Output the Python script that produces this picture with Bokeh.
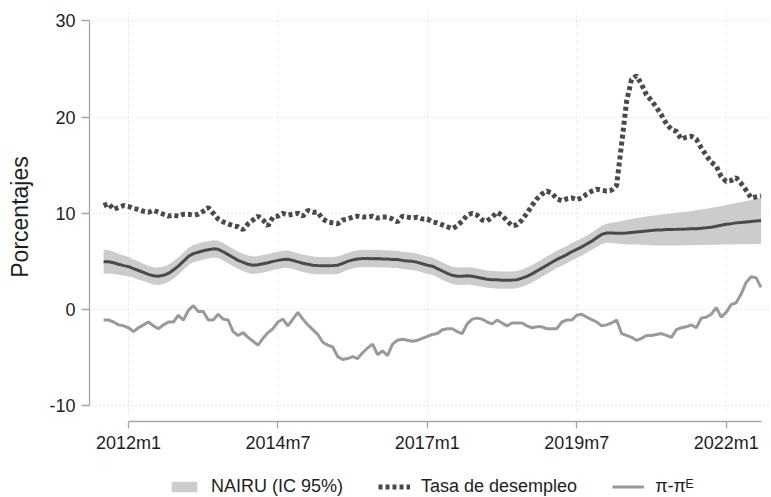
import numpy as np
from bokeh.plotting import figure
from bokeh.layouts import column
from bokeh.models import Range1d, LinearAxis, FixedTicker, Legend, LegendItem, ColumnDataSource
from bokeh.embed import file_html
from bokeh.resources import INLINE

# Monthly series, 2011m8 .. 2022m8 (Stata monthly index 619 .. 751)
START = 619

unemployment = [
    10.8, 11.0, 10.4, 10.6, 10.8,
    10.7, 10.5, 10.4, 10.2, 10.1, 10.3, 10.1, 9.9, 9.7, 9.8, 9.7, 9.9,
    9.9, 9.8, 9.9, 10.2, 10.6, 10.0, 9.4, 9.1, 8.9, 8.7, 8.6, 8.3,
    8.9, 9.3, 9.7, 9.3, 8.7, 9.6, 9.7, 10.0, 9.8, 9.9, 10.0, 9.7,
    10.3, 10.1, 10.1, 9.4, 9.1, 9.0, 8.9, 9.3, 9.4, 9.6, 9.7, 9.6,
    9.6, 9.7, 9.5, 9.6, 9.6, 9.4, 9.1, 9.7, 9.6, 9.5, 9.6, 9.4,
    9.4, 9.1, 9.0, 8.8, 8.6, 8.4, 8.7, 9.2, 9.8, 10.0, 9.8, 9.3,
    9.2, 9.6, 10.1, 9.8, 9.2, 8.7, 8.8, 9.3, 10.0, 10.8, 11.5, 12.0,
    12.3, 12.1, 11.5, 11.3, 11.5, 11.6, 11.4, 11.6, 12.0, 12.3, 12.5, 12.4,
    12.3, 12.4, 12.9, 17.2, 21.6, 23.9, 24.3, 23.4, 22.3, 21.7, 21.0, 20.2,
    19.3, 18.7, 18.5, 17.7, 17.9, 18.0, 17.7, 16.8, 16.0, 15.3, 14.9, 13.8,
    13.3, 13.4, 13.7, 13.1, 12.4, 11.6, 11.7, 11.8,
]

inflation_gap = [
    -1.1, -1.1, -1.3, -1.6, -1.7,
    -1.9, -2.3, -1.9, -1.6, -1.3, -1.7, -2.0, -1.6, -1.3, -1.3, -0.6, -1.1,
    -0.1, 0.4, -0.2, -0.2, -1.1, -1.1, -0.5, -1.0, -1.1, -2.3, -2.7, -2.4,
    -2.9, -3.3, -3.7, -3.0, -2.4, -2.0, -1.3, -1.0, -1.7, -1.0, -0.3, -1.0,
    -1.6, -2.1, -2.6, -3.4, -3.7, -3.9, -4.9, -5.2, -5.1, -4.9, -5.1, -4.5,
    -4.0, -3.6, -4.7, -4.3, -4.8, -3.6, -3.2, -3.1, -3.2, -3.3, -3.2, -3.0,
    -2.8, -2.6, -2.5, -2.1, -2.0, -2.0, -2.3, -2.5, -1.5, -1.0, -0.9, -1.0,
    -1.3, -1.5, -1.1, -1.4, -1.7, -1.4, -1.4, -1.4, -1.7, -1.9, -1.8, -1.8,
    -2.0, -2.0, -2.0, -1.3, -1.1, -1.1, -0.6, -0.5, -0.8, -1.05, -1.3, -1.7,
    -1.6, -1.4, -1.1, -2.5, -2.7, -2.9, -3.2, -3.0, -2.7, -2.7, -2.6, -2.5,
    -2.7, -2.9, -2.1, -1.9, -1.8, -1.6, -1.9, -0.9, -0.8, -0.5, 0.2, -0.8,
    -0.3, 0.5, 0.7, 1.6, 2.8, 3.4, 3.3, 2.3,
]

nairu = [
    4.97, 4.95, 4.85, 4.70, 4.56,
    4.45, 4.25, 4.05, 3.85, 3.65, 3.50, 3.45, 3.55, 3.75, 4.10, 4.50, 5.00,
    5.50, 5.80, 5.95, 6.10, 6.20, 6.30, 6.25, 6.00, 5.70, 5.40, 5.10, 4.90,
    4.70, 4.60, 4.65, 4.75, 4.85, 5.00, 5.10, 5.20, 5.22, 5.10, 4.95, 4.80,
    4.70, 4.60, 4.56, 4.55, 4.55, 4.56, 4.60, 4.80, 5.00, 5.15, 5.25, 5.30,
    5.30, 5.28, 5.30, 5.25, 5.25, 5.20, 5.20, 5.10, 5.05, 5.00, 4.90, 4.75,
    4.60, 4.50, 4.25, 4.00, 3.75, 3.55, 3.45, 3.45, 3.50, 3.45, 3.35, 3.25,
    3.15, 3.10, 3.08, 3.05, 3.05, 3.05, 3.10, 3.25, 3.45, 3.70, 4.00, 4.30,
    4.60, 4.90, 5.20, 5.45, 5.70, 6.00, 6.25, 6.50, 6.80, 7.10, 7.45, 7.80,
    7.95, 7.95, 7.92, 7.92, 7.95, 8.00, 8.05, 8.10, 8.15, 8.20, 8.25, 8.27,
    8.30, 8.32, 8.33, 8.35, 8.36, 8.38, 8.40, 8.45, 8.50, 8.55, 8.65, 8.75,
    8.85, 8.92, 9.00, 9.05, 9.10, 9.15, 9.20, 9.25,
]

nairu_lo = [
    3.72, 3.75, 3.70, 3.60, 3.51,
    3.45, 3.30, 3.10, 2.95, 2.75, 2.60, 2.55, 2.65, 2.85, 3.20, 3.60, 4.10,
    4.60, 4.90, 5.05, 5.20, 5.30, 5.40, 5.35, 5.10, 4.80, 4.50, 4.20, 4.00,
    3.80, 3.70, 3.75, 3.85, 3.95, 4.10, 4.20, 4.30, 4.32, 4.20, 4.05, 3.90,
    3.80, 3.70, 3.66, 3.65, 3.65, 3.66, 3.70, 3.90, 4.10, 4.25, 4.35, 4.40,
    4.40, 4.38, 4.40, 4.35, 4.35, 4.30, 4.30, 4.20, 4.15, 4.10, 4.00, 3.85,
    3.70, 3.60, 3.35, 3.10, 2.85, 2.65, 2.55, 2.55, 2.60, 2.55, 2.45, 2.35,
    2.25, 2.20, 2.18, 2.15, 2.15, 2.15, 2.20, 2.35, 2.55, 2.80, 3.10, 3.40,
    3.70, 4.00, 4.30, 4.55, 4.80, 5.10, 5.35, 5.60, 5.90, 6.20, 6.50, 6.80,
    6.95, 6.90, 6.85, 6.80, 6.78, 6.76, 6.74, 6.72, 6.70, 6.68, 6.66, 6.65,
    6.65, 6.65, 6.65, 6.66, 6.67, 6.68, 6.69, 6.70, 6.71, 6.72, 6.73, 6.74,
    6.75, 6.76, 6.77, 6.78, 6.78, 6.79, 6.80, 6.80,
]

nairu_hi = [
    6.22, 6.15, 6.00, 5.80, 5.61,
    5.45, 5.20, 5.00, 4.75, 4.55, 4.40, 4.35, 4.45, 4.65, 5.00, 5.40, 5.90,
    6.40, 6.70, 6.85, 7.00, 7.10, 7.20, 7.15, 6.90, 6.60, 6.30, 6.00, 5.80,
    5.60, 5.50, 5.55, 5.65, 5.75, 5.90, 6.00, 6.10, 6.12, 6.00, 5.85, 5.70,
    5.60, 5.50, 5.46, 5.45, 5.45, 5.46, 5.50, 5.70, 5.90, 6.05, 6.15, 6.20,
    6.20, 6.18, 6.20, 6.15, 6.15, 6.10, 6.10, 6.00, 5.95, 5.90, 5.80, 5.65,
    5.50, 5.40, 5.15, 4.90, 4.65, 4.45, 4.35, 4.35, 4.40, 4.35, 4.25, 4.15,
    4.05, 4.00, 3.98, 3.95, 3.95, 3.95, 4.00, 4.15, 4.35, 4.60, 4.90, 5.20,
    5.50, 5.80, 6.10, 6.35, 6.60, 6.90, 7.15, 7.40, 7.70, 8.00, 8.35, 8.70,
    8.90, 9.00, 9.10, 9.20, 9.30, 9.40, 9.50, 9.58, 9.66, 9.74, 9.80, 9.86,
    9.92, 9.98, 10.04, 10.10, 10.16, 10.22, 10.30, 10.38, 10.47, 10.56, 10.66, 10.76,
    10.86, 10.96, 11.06, 11.16, 11.26, 11.36, 11.48, 11.60,
]

tick_months = [624, 654, 684, 714, 744]
tick_labels = ["2012m1", "2014m7", "2017m1", "2019m7", "2022m1"]
y_ticks = [-10, 0, 10, 20, 30]
y_labels = ["-10", "0", "10", "20", "30"]
legend_labels = ["NAIRU (IC 95%)", "Tasa de desempleo", "\u03c0-\u03c0\u1d31"]

month = list(range(START, START + len(nairu)))
src = ColumnDataSource(dict(month=month, u=unemployment, gap=inflation_gap,
                            nairu=nairu, lo=nairu_lo, hi=nairu_hi))

FONT = "Liberation Sans"
AXIS_GREY = "#a6a6a6"
GRID_GREY = "#d2d2d2"
TEXT = "#1e1e1e"
BAND = "#cccccc"
DARK = "#4a4a4a"
LIGHT = "#9a9a9a"

p = figure(frame_width=682, frame_height=409, output_backend="svg",
           toolbar_location=None,
           x_range=Range1d(616.16, 753.1), y_range=Range1d(-11.64, 30.86),
           x_axis_location=None, y_axis_location=None,
           min_border_left=89, min_border_right=0, min_border_top=12,
           min_border_bottom=44)
p.outline_line_color = None
p.background_fill_color = "white"
p.border_fill_color = "white"
p.grid.visible = False

# dotted grid at the labelled ticks
p.segment(x0=tick_months, y0=-10.83, x1=tick_months, y1=30.86,
          line_color=GRID_GREY, line_width=1, line_dash="1 3")
p.segment(x0=616.6, y0=y_ticks, x1=753.1, y1=y_ticks,
          line_color=GRID_GREY, line_width=1, line_dash="1 3")


def draw_series(fig):
    """Band, NAIRU, unemployment and inflation gap; returns the keyed renderers."""
    band = fig.varea(x="month", y1="lo", y2="hi", source=src, fill_color=BAND)
    fig.line(x="month", y="nairu", source=src, line_color=DARK, line_width=3)
    u = fig.line(x="month", y="u", source=src, line_color=DARK, line_width=5,
                 line_dash="4 3")
    g = fig.line(x="month", y="gap", source=src, line_color=LIGHT, line_width=3)
    return [band, u, g]


draw_series(p)

yaxis = LinearAxis(ticker=FixedTicker(ticks=y_ticks), bounds=(-10, 30),
                   axis_label="Porcentajes",
                   major_label_overrides={v: s for v, s in zip(y_ticks, y_labels)})
xaxis = LinearAxis(ticker=FixedTicker(ticks=tick_months), bounds=(624, 751),
                   major_label_overrides={m: s for m, s in zip(tick_months, tick_labels)})
for ax in (xaxis, yaxis):
    ax.axis_line_color = AXIS_GREY
    ax.axis_line_width = 1.3
    ax.major_tick_line_color = AXIS_GREY
    ax.major_tick_line_width = 1.3
    ax.major_tick_in = 0
    ax.minor_tick_line_color = None
    ax.major_label_text_font = FONT
    ax.major_label_text_font_size = "18px"
    ax.major_label_text_color = TEXT
yaxis.major_tick_out = 8
yaxis.major_label_standoff = 6
yaxis.axis_label_text_font = FONT
yaxis.axis_label_text_font_size = "23px"
yaxis.axis_label_text_font_style = "normal"
yaxis.axis_label_text_color = TEXT
yaxis.axis_label_standoff = 13
xaxis.major_tick_out = 7
xaxis.major_label_standoff = 4
p.add_layout(yaxis, "left")
p.add_layout(xaxis, "below")

# legend strip under the chart; its series sit outside the strip's view,
# so only the legend keys are drawn
lg = figure(frame_width=682, frame_height=32, output_backend="svg",
            toolbar_location=None,
            x_range=Range1d(0, 1), y_range=Range1d(0, 1),
            x_axis_location=None, y_axis_location=None,
            min_border_left=89, min_border_right=0, min_border_top=0,
            min_border_bottom=0)
lg.outline_line_color = None
lg.grid.visible = False
keys = draw_series(lg)

legend = Legend(items=[LegendItem(label=lab, renderers=[r])
                       for lab, r in zip(legend_labels, keys)],
                orientation="horizontal", location=(79, 0),
                glyph_width=32, glyph_height=13, label_height=13, label_standoff=11,
                spacing=35, padding=0, margin=0, border_line_color=None,
                background_fill_alpha=0, label_text_font=FONT,
                label_text_font_size="18px", label_text_color=TEXT)
lg.add_layout(legend)

open("out.html", "w").write(file_html(column(p, lg, spacing=0), INLINE))
